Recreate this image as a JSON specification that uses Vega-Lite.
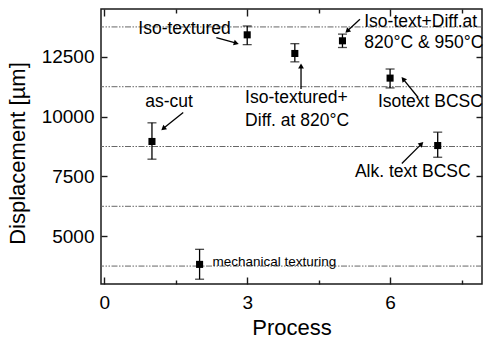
{
  "$schema": "https://vega.github.io/schema/vega-lite/v6.json",
  "width": 381,
  "height": 275,
  "autosize": "none",
  "padding": {"left": 101, "top": 9, "right": 2, "bottom": 57},
  "config": {
    "font": "Liberation Sans",
    "view": {"stroke": "#1a1a1a", "strokeWidth": 1.5},
    "axis": {"grid": false, "domain": false, "tickColor": "#1a1a1a", "tickWidth": 1.4, "labelColor": "#000", "titleColor": "#000", "labelFont": "Liberation Sans", "titleFont": "Liberation Sans", "titleFontWeight": "normal"}
  },
  "datasets": {
    "points": [
      {"process": 1, "disp": 8960, "lo": 8220, "hi": 9740},
      {"process": 2, "disp": 3820, "lo": 3200, "hi": 4450},
      {"process": 3, "disp": 13420, "lo": 13010, "hi": 13790},
      {"process": 4, "disp": 12640, "lo": 12290, "hi": 13050},
      {"process": 5, "disp": 13170, "lo": 12890, "hi": 13450},
      {"process": 6, "disp": 11610, "lo": 11200, "hi": 11990},
      {"process": 7, "disp": 8790, "lo": 8300, "hi": 9350}
    ],
    "levels": [{"level": 3750}, {"level": 6250}, {"level": 8750}, {"level": 11250}, {"level": 13750}],
    "arrows": [
      {"x1": 1.656, "y1": 10170, "x2": 1.237, "y2": 9500, "angle": 231},
      {"x1": 2.352, "y1": 13300, "x2": 2.771, "y2": 13070, "angle": 106},
      {"x1": 4.13, "y1": 11150, "x2": 4.13, "y2": 12120, "angle": 0},
      {"x1": 5.367, "y1": 14070, "x2": 5.101, "y2": 13580, "angle": 227},
      {"x1": 6.589, "y1": 10800, "x2": 6.275, "y2": 11570, "angle": 321},
      {"x1": 6.247, "y1": 8040, "x2": 6.66, "y2": 8860, "angle": 45}
    ],
    "labels": [
      {"label": "Iso-textured", "x": 0.713, "y": 13654},
      {"label": "as-cut", "x": 0.86, "y": 10625},
      {"label": "Iso-textured+", "x": 2.956, "y": 10792},
      {"label": "Diff. at 820°C", "x": 2.956, "y": 9833},
      {"label": "Iso-text+Diff.at", "x": 5.457, "y": 13971},
      {"label": "820°C & 950°C", "x": 5.457, "y": 13096},
      {"label": "Isotext BCSC", "x": 5.744, "y": 10596},
      {"label": "Alk. text BCSC", "x": 5.262, "y": 7679}
    ],
    "small": [{"label": "mechanical texturing", "x": 2.27, "y": 3904}]
  },
  "resolve": {"axis": {"x": "independent", "y": "independent"}},
  "layer": [
    {
      "data": {"name": "levels"},
      "mark": {"type": "rule", "color": "#666", "strokeWidth": 1, "strokeDash": [6, 1.5, 1.5, 1.5, 1.5, 1.5]},
      "encoding": {
        "y": {"field": "level", "type": "quantitative", "scale": {"domain": [3000, 14500], "nice": false, "zero": false}, "axis": null}
      }
    },
    {
      "data": {"name": "points"},
      "mark": {"type": "rule", "color": "#000", "strokeWidth": 1.3},
      "encoding": {
        "x": {"field": "process", "type": "quantitative", "scale": {"domain": [-0.07, 7.93], "nice": false, "zero": false},
          "axis": {"orient": "bottom", "title": "Process", "titleFontSize": 22, "labelFontSize": 19, "titlePadding": 5,
            "values": [0, 3, 6], "format": "d", "offset": -7, "tickSize": 7, "labelPadding": 9}},
        "y": {"field": "lo", "type": "quantitative", "scale": {"domain": [3000, 14500], "nice": false, "zero": false},
          "axis": {"orient": "left", "title": "Displacement [µm]", "titleFontSize": 22, "labelFontSize": 19, "titlePadding": 12, "titleY": 144,
            "values": [5000, 7500, 10000, 12500], "format": "d", "offset": -6, "tickSize": 6, "labelPadding": 7}},
        "y2": {"field": "hi"}
      }
    },
    {
      "data": {"name": "points"},
      "mark": {"type": "tick", "color": "#000", "orient": "horizontal", "size": 9, "thickness": 1.3},
      "encoding": {
        "x": {"field": "process", "type": "quantitative", "scale": {"domain": [-0.07, 7.93], "nice": false, "zero": false},
          "axis": {"orient": "bottom", "title": null, "labels": false, "values": [1.5, 4.5, 7.5], "offset": -4, "tickSize": 4}},
        "y": {"field": "lo", "type": "quantitative", "scale": {"domain": [3000, 14500], "nice": false, "zero": false},
          "axis": {"orient": "right", "title": null, "labels": false, "values": [5000, 7500, 10000, 12500], "offset": -6, "tickSize": 6}}
      }
    },
    {
      "data": {"name": "points"},
      "mark": {"type": "tick", "color": "#000", "orient": "horizontal", "size": 9, "thickness": 1.3},
      "encoding": {
        "x": {"field": "process", "type": "quantitative", "scale": {"domain": [-0.07, 7.93], "nice": false, "zero": false},
          "axis": {"orient": "top", "title": null, "labels": false, "values": [0, 3, 6], "offset": -7, "tickSize": 7}},
        "y": {"field": "hi", "type": "quantitative", "scale": {"domain": [3000, 14500], "nice": false, "zero": false}, "axis": null}
      }
    },
    {
      "data": {"name": "points"},
      "mark": {"type": "point", "shape": "square", "filled": true, "color": "#000", "size": 50, "opacity": 1},
      "encoding": {
        "x": {"field": "process", "type": "quantitative", "scale": {"domain": [-0.07, 7.93], "nice": false, "zero": false},
          "axis": {"orient": "top", "title": null, "labels": false, "values": [1.5, 4.5, 7.5], "offset": -4, "tickSize": 4}},
        "y": {"field": "disp", "type": "quantitative", "scale": {"domain": [3000, 14500], "nice": false, "zero": false}, "axis": null}
      }
    },
    {
      "data": {"name": "arrows"},
      "mark": {"type": "rule", "color": "#000", "strokeWidth": 1.3},
      "encoding": {
        "x": {"field": "x1", "type": "quantitative", "scale": {"domain": [-0.07, 7.93], "nice": false, "zero": false}, "axis": null},
        "y": {"field": "y1", "type": "quantitative", "scale": {"domain": [3000, 14500], "nice": false, "zero": false}, "axis": null},
        "x2": {"field": "x2"},
        "y2": {"field": "y2"}
      }
    },
    {
      "data": {"name": "arrows"},
      "mark": {"type": "point", "shape": "triangle-up", "filled": true, "color": "#000", "size": 34, "opacity": 1, "strokeWidth": 0},
      "encoding": {
        "x": {"field": "x2", "type": "quantitative", "scale": {"domain": [-0.07, 7.93], "nice": false, "zero": false}, "axis": null},
        "y": {"field": "y2", "type": "quantitative", "scale": {"domain": [3000, 14500], "nice": false, "zero": false}, "axis": null},
        "angle": {"field": "angle", "type": "quantitative", "scale": null}
      }
    },
    {
      "data": {"name": "labels"},
      "mark": {"type": "text", "align": "left", "baseline": "middle", "fontSize": 17.5, "color": "#000"},
      "encoding": {
        "x": {"field": "x", "type": "quantitative", "scale": {"domain": [-0.07, 7.93], "nice": false, "zero": false}, "axis": null},
        "y": {"field": "y", "type": "quantitative", "scale": {"domain": [3000, 14500], "nice": false, "zero": false}, "axis": null},
        "text": {"field": "label"}
      }
    },
    {
      "data": {"name": "small"},
      "mark": {"type": "text", "align": "left", "baseline": "middle", "fontSize": 13.5, "color": "#000"},
      "encoding": {
        "x": {"field": "x", "type": "quantitative", "scale": {"domain": [-0.07, 7.93], "nice": false, "zero": false}, "axis": null},
        "y": {"field": "y", "type": "quantitative", "scale": {"domain": [3000, 14500], "nice": false, "zero": false}, "axis": null},
        "text": {"field": "label"}
      }
    }
  ]
}
